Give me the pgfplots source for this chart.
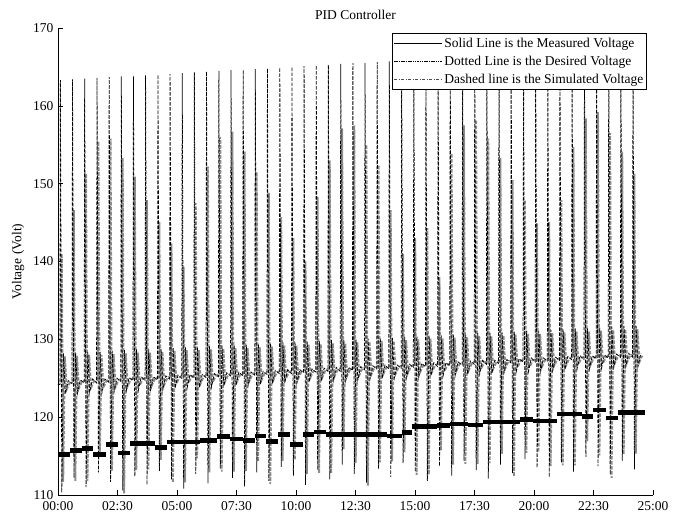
\documentclass[border=0pt]{standalone}
\usepackage{fontspec}
\setmainfont{Liberation Serif}
\usepackage{pgfplots}
\usepackage{pgfplotstable}
\pgfplotsset{compat=1.18}

\pgfplotstableread{
x des sim
0.00 124.2 124.6
0.08 124.2 124.6
0.10 163.3 141.0
0.16 110.3 111.7
0.23 128.2 127.8
0.31 123.0 123.6
0.43 124.7 124.4
0.59 124.3 124.7
0.61 163.4 146.6
0.67 112.2 111.8
0.74 128.3 127.9
0.82 123.1 123.7
0.94 124.8 124.5
1.10 124.4 124.8
1.12 163.5 151.3
1.18 111.0 111.8
1.25 128.4 128.0
1.33 123.2 123.8
1.45 124.9 124.6
1.62 124.4 124.8
1.64 163.6 155.4
1.70 112.9 114.9
1.77 128.4 128.0
1.85 123.2 123.8
1.97 124.9 124.6
2.13 124.5 124.9
2.15 163.7 155.8
2.21 111.7 113.1
2.28 128.5 128.1
2.36 123.3 123.9
2.48 125.0 124.7
2.64 124.6 125.0
2.66 163.8 153.3
2.72 110.6 110.2
2.79 128.6 128.2
2.87 123.4 124.0
2.99 125.1 124.8
3.15 124.7 125.1
3.17 163.8 150.9
3.23 112.4 113.2
3.30 128.7 128.3
3.38 123.5 124.1
3.50 125.2 124.9
3.66 124.7 125.1
3.68 163.9 147.9
3.74 111.3 113.3
3.81 128.7 128.3
3.89 123.5 124.1
4.01 125.2 124.9
4.18 124.8 125.2
4.20 164.0 145.1
4.26 113.1 114.5
4.33 128.8 128.4
4.41 123.6 124.2
4.53 125.3 125.0
4.69 124.9 125.3
4.71 164.1 142.3
4.77 112.0 111.6
4.84 128.9 128.5
4.92 123.7 124.3
5.04 125.4 125.1
5.20 125.0 125.4
5.22 164.2 139.3
5.28 110.8 111.6
5.35 129.0 128.6
5.43 123.8 124.4
5.55 125.5 125.2
5.71 125.0 125.4
5.73 164.3 147.5
5.79 112.7 114.7
5.86 129.0 128.6
5.94 123.8 124.4
6.06 125.5 125.2
6.22 125.1 125.5
6.24 164.4 152.2
6.30 111.5 112.9
6.37 129.1 128.7
6.45 123.9 124.5
6.57 125.6 125.3
6.74 125.2 125.6
6.76 164.5 156.0
6.82 113.4 113.0
6.89 129.2 128.8
6.97 124.0 124.6
7.09 125.7 125.4
7.25 125.3 125.7
7.27 164.6 156.7
7.33 112.2 113.0
7.40 129.3 128.9
7.48 124.1 124.7
7.60 125.8 125.5
7.76 125.3 125.7
7.78 164.6 154.1
7.84 111.1 113.1
7.91 129.3 128.9
7.99 124.1 124.7
8.11 125.8 125.5
8.27 125.4 125.8
8.29 164.7 151.5
8.35 112.9 114.3
8.42 129.4 129.0
8.50 124.2 124.8
8.62 125.9 125.6
8.78 125.5 125.9
8.80 164.8 148.8
8.86 111.8 111.4
8.93 129.5 129.1
9.01 124.3 124.9
9.13 126.0 125.7
9.30 125.6 126.0
9.32 164.9 145.7
9.38 113.6 114.4
9.45 129.6 129.2
9.53 124.4 125.0
9.65 126.1 125.8
9.81 125.6 126.0
9.83 165.0 143.0
9.89 112.5 114.5
9.96 129.6 129.2
10.04 124.4 125.0
10.16 126.1 125.8
10.32 125.7 126.1
10.34 165.1 140.0
10.40 111.3 112.7
10.47 129.7 129.3
10.55 124.5 125.1
10.67 126.2 125.9
10.83 125.8 126.2
10.85 165.2 148.3
10.91 113.2 112.8
10.98 129.8 129.4
11.06 124.6 125.2
11.18 126.3 126.0
11.34 125.9 126.3
11.36 165.3 153.0
11.42 112.0 112.8
11.49 129.9 129.5
11.57 124.7 125.3
11.69 126.4 126.1
11.86 125.9 126.3
11.88 165.4 157.1
11.94 113.9 115.9
12.01 129.9 129.5
12.09 124.7 125.3
12.21 126.4 126.1
12.37 126.0 126.4
12.39 165.5 157.5
12.45 112.7 114.1
12.52 130.0 129.6
12.60 124.8 125.4
12.72 126.5 126.2
12.88 126.1 126.5
12.90 165.5 155.0
12.96 111.6 111.2
13.03 130.1 129.7
13.11 124.9 125.5
13.23 126.6 126.3
13.39 126.2 126.6
13.41 165.6 152.4
13.47 113.4 114.2
13.54 130.2 129.8
13.62 125.0 125.6
13.74 126.7 126.4
13.90 126.2 126.6
13.92 165.7 146.6
13.98 112.3 114.3
14.05 130.2 129.8
14.13 125.0 125.6
14.25 126.7 126.4
14.42 126.3 126.7
14.44 165.8 141.0
14.50 114.1 115.5
14.57 130.3 129.9
14.65 125.1 125.7
14.77 126.8 126.5
14.93 126.4 126.8
14.95 165.9 143.0
15.01 113.0 112.6
15.08 130.4 130.0
15.16 125.2 125.8
15.28 126.9 126.6
15.44 126.5 126.9
15.46 166.0 144.3
15.52 111.8 112.6
15.59 130.5 130.1
15.67 125.3 125.9
15.79 127.0 126.7
15.95 126.5 126.9
15.97 166.1 138.0
16.03 113.7 115.7
16.10 130.5 130.1
16.18 125.3 125.9
16.30 127.0 126.7
16.46 126.6 127.0
16.48 166.2 153.9
16.54 112.5 113.9
16.61 130.6 130.2
16.69 125.4 126.0
16.81 127.1 126.8
16.98 126.7 127.1
17.00 166.3 157.5
17.06 114.4 114.0
17.13 130.7 130.3
17.21 125.5 126.1
17.33 127.2 126.9
17.49 126.8 127.2
17.51 166.4 158.2
17.57 113.2 114.0
17.64 130.8 130.4
17.72 125.6 126.2
17.84 127.3 127.0
18.00 126.8 127.2
18.02 166.4 155.8
18.08 112.1 114.1
18.15 130.8 130.4
18.23 125.6 126.2
18.35 127.3 127.0
18.51 126.9 127.3
18.53 166.5 153.3
18.59 113.9 115.3
18.66 130.9 130.5
18.74 125.7 126.3
18.86 127.4 127.1
19.02 127.0 127.4
19.04 166.6 150.5
19.10 112.8 112.4
19.17 131.0 130.6
19.25 125.8 126.4
19.37 127.5 127.2
19.54 127.1 127.5
19.56 166.7 147.9
19.62 114.6 115.4
19.69 131.1 130.7
19.77 125.9 126.5
19.89 127.6 127.3
20.05 127.1 127.5
20.07 166.8 144.9
20.13 113.5 115.5
20.20 131.1 130.7
20.28 125.9 126.5
20.40 127.6 127.3
20.56 127.2 127.6
20.58 166.9 145.1
20.64 112.3 113.7
20.71 131.2 130.8
20.79 126.0 126.6
20.91 127.7 127.4
21.07 127.3 127.7
21.09 167.0 147.9
21.15 114.2 113.8
21.22 131.3 130.9
21.30 126.1 126.7
21.42 127.8 127.5
21.58 127.4 127.8
21.60 167.1 154.7
21.66 113.0 113.8
21.73 131.4 131.0
21.81 126.2 126.8
21.93 127.9 127.6
22.10 127.4 127.8
22.12 167.2 158.4
22.18 114.9 116.9
22.25 131.4 131.0
22.33 126.2 126.8
22.45 127.9 127.6
22.61 127.5 127.9
22.63 167.3 159.2
22.69 113.7 115.1
22.76 131.5 131.1
22.84 126.3 126.9
22.96 128.0 127.7
23.12 127.6 128.0
23.14 167.3 156.5
23.20 112.6 112.2
23.27 131.6 131.2
23.35 126.4 127.0
23.47 128.1 127.8
23.63 127.7 128.1
23.65 167.4 154.1
23.71 114.4 115.2
23.78 131.7 131.3
23.86 126.5 127.1
23.98 128.2 127.9
24.14 127.7 128.1
24.16 167.5 151.3
24.22 113.3 115.3
24.29 131.7 131.3
24.37 126.5 127.1
24.49 128.2 127.9
}\pidtable

\pgfplotstableread{
x v
0.00 115.2
0.50 115.7
1.00 116.0
1.47 115.2
2.02 116.5
2.52 115.4
3.03 116.6
4.08 116.1
4.58 116.8
5.97 117.0
6.68 117.5
7.23 117.2
7.77 117.0
8.28 117.6
8.74 116.9
9.24 117.8
9.75 116.5
10.29 117.8
10.76 118.1
11.26 117.8
13.82 117.6
14.45 118.0
14.87 118.8
15.92 118.9
16.47 119.1
17.23 119.0
17.86 119.4
19.41 119.7
19.96 119.5
20.97 120.4
22.02 120.1
22.48 120.9
23.03 119.9
23.53 120.6
24.66 120.6
}\measured

\begin{document}
\begin{tikzpicture}
\begin{axis}[
  scale only axis,
  width=595pt, height=467pt,
  xmin=0, xmax=25, ymin=110, ymax=170,
  axis x line*=bottom, axis y line*=left,
  axis line style={-, line width=0.6pt},
  xtick={0,2.5,5,7.5,10,12.5,15,17.5,20,22.5,25},
  xticklabels={00:00,02:30,05:00,07:30,10:00,12:30,15:00,17:30,20:00,22:30,25:00},
  ytick={110,120,130,140,150,160,170},
  tick align=inside, major tick length=5pt,
  tick style={black, line width=0.6pt},
  /pgf/number format/assume math mode=true,
  ticklabel style={font=\fontsize{13.5}{15}\selectfont},
  xticklabel style={yshift=-3pt},
  yticklabel style={xshift=-1pt},
  title={PID Controller},
  title style={font=\fontsize{13.5}{15}\selectfont, yshift=-1pt},
  ylabel={Voltage (Volt)},
  ylabel style={font=\fontsize{13.5}{15}\selectfont, yshift=2pt},
  legend image code/.code={\path (0pt,0pt) -- (7pt,0pt); \draw[#1] (7pt,0pt) -- (48pt,0pt);},
  legend cell align=left,
  legend style={at={(0.99,0.99)}, anchor=north east, draw=black, fill=white,
    line width=0.6pt, font=\fontsize{13.5}{15}\selectfont, inner xsep=1.5pt, inner ysep=3pt,
    row sep=3pt},
]
\addplot[forget plot, color=black!45, line width=1.9pt, xshift=1.4pt, dash pattern=on 3.5pt off 1.5pt] table[x=x, y=sim] {\pidtable};
\addplot[forget plot, color=black, line width=0.75pt, dash pattern=on 3.5pt off 1.5pt] table[x=x, y=des] {\pidtable};
\addplot[forget plot, color=black, line width=4.5pt, jump mark left] table[x=x, y=v] {\measured};
\addlegendimage{black, line width=0.6pt}
\addlegendentry{Solid Line is the Measured Voltage}
\addlegendimage{black, line width=0.6pt, dash pattern=on 1.5pt off 0.8pt}
\addlegendentry{Dotted Line is the Desired Voltage}
\addlegendimage{black!70, line width=0.6pt, dash pattern=on 3pt off 1.5pt on 1pt off 1.5pt}
\addlegendentry{Dashed line is the Simulated Voltage}
\end{axis}
\path (current axis.south west) ++(-58pt,-23pt) rectangle ++(686pt,518pt);
\end{tikzpicture}
\end{document}
